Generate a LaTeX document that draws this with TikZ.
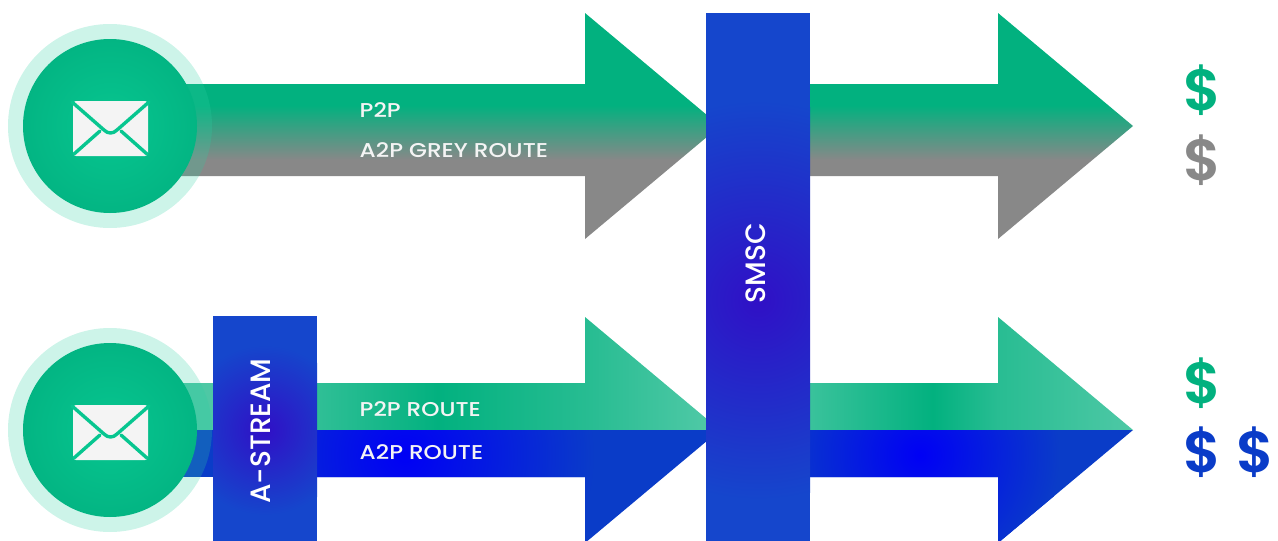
\documentclass[tikz,border=0pt]{standalone}
\usepackage{fontspec}
\setmainfont{Poppins}
\newfontfamily\routefont[FakeStretch=1.16]{Poppins Medium}
\newfontfamily\boxfont{Poppins Medium}
\newfontfamily\usdfont{Poppins SemiBold}
\usepackage{xcolor}
\usetikzlibrary{positioning}
\definecolor{routegreen}{HTML}{02B17F}
\definecolor{routegrey}{HTML}{888888}
\definecolor{routeblue}{HTML}{0000F5}
\definecolor{headblue}{HTML}{0A3CC8}
\definecolor{boxblue}{HTML}{1546CC}
\definecolor{boxviolet}{HTML}{3010C6}
\definecolor{mailgreen}{HTML}{07C690}
\definecolor{mailedge}{HTML}{03B583}
\definecolor{paper}{HTML}{F4F4F4}
\pgfdeclareverticalshading{greyroute}{100bp}{color(0bp)=(routegrey); color(42.5bp)=(routegrey); color(54.6bp)=(routegreen); color(100bp)=(routegreen)}
\pgfdeclarehorizontalshading{greenleft}{100bp}{color(0bp)=(routegreen!82!white); color(25bp)=(routegreen!82!white); color(40bp)=(routegreen); color(59bp)=(routegreen!85!white); color(75bp)=(routegreen!68!white); color(100bp)=(routegreen!68!white)}
\pgfdeclarehorizontalshading{greenright}{100bp}{color(0bp)=(routegreen!78!white); color(25bp)=(routegreen!78!white); color(44bp)=(routegreen); color(54bp)=(routegreen!85!white); color(75bp)=(routegreen!70!white); color(100bp)=(routegreen!70!white)}
\tikzset{
  routetext/.style={text=paper, font=\routefont\fontsize{20}{20}\selectfont, anchor=base west, inner sep=0pt},
  boxtext/.style={text=white, font=\boxfont\fontsize{28}{28}\selectfont, rotate=90, inner sep=0pt},
  money/.style={font=\usdfont\fontsize{58}{58}\selectfont, anchor=base west, inner sep=0pt},
  mailring/.style={circle, minimum size=204pt, inner sep=0pt, fill=mailgreen!85!white, fill opacity=.24},
  maildisc/.style={circle, minimum size=174pt, inner sep=0pt, inner color=mailgreen, outer color=mailedge},
  flap/.style={draw=mailgreen, line width=3.4pt, line cap=round, line join=round},
}
\begin{document}
\begin{tikzpicture}[x=1pt, y=-1pt]
\useasboundingbox (0,0) rectangle (1278,541);
% Upper arrows
\shade[shading=greyroute] (150,84) -- (585,84) -- (585,13) -- (720,126) -- (585,239) -- (585,176) -- (150,176) -- cycle;
\shade[shading=greyroute] (800,84) -- (998,84) -- (998,13) -- (1133,126) -- (998,239) -- (998,176) -- (800,176) -- cycle;
% Lower arrows, green half
\fill[routegreen!70!white] (150,383) rectangle (220,430);
\shade[shading=greenleft] (317,383) -- (585,383) -- (585,317) -- (720,430) -- (317,430) -- cycle;
\shade[shading=greenright] (810,383) -- (998,383) -- (998,317) -- (1133,430) -- (810,430) -- cycle;
% Lower arrows, blue half
\fill[headblue] (150,430) rectangle (220,477);
\begin{scope}
\clip (317,430) -- (720,430) -- (585,543) -- (585,477) -- (317,477) -- cycle;
\fill[headblue] (300,420) rectangle (730,550);
\shade[inner color=routeblue, outer color=headblue] (405,455) circle (190);
\end{scope}
\begin{scope}
\clip (810,430) -- (1133,430) -- (998,543) -- (998,477) -- (810,477) -- cycle;
\fill[headblue] (800,420) rectangle (1140,550);
\shade[inner color=routeblue, outer color=headblue] (920,455) circle (140);
\end{scope}
% Mail icons
\foreach \n/\cy in {top/126, low/430} {
  \node[mailring] (ring\n) at (110,\cy) {};
  \node[maildisc] (disc\n) at (110,\cy) {};
  \fill[paper, rounded corners=3pt] (73,\cy-25) rectangle (148,\cy+30);
  \draw[flap] (72,\cy-24) -- (104,\cy+4) .. controls (108,\cy+8) and (113,\cy+8) .. (117,\cy+4) -- (149,\cy-24);
  \draw[flap] (74,\cy+28) -- (100,\cy+5);
  \draw[flap] (147,\cy+28) -- (121,\cy+5);
}
% Boxes
\begin{scope}
\clip (213,316) rectangle (317,541);
\fill[boxblue] (213,316) rectangle (317,541);
\shade[inner color=boxviolet, outer color=boxblue] (265,430) circle (85);
\end{scope}
\begin{scope}
\clip (706,13) rectangle (810,541);
\fill[boxblue] (706,13) rectangle (810,541);
\shade[inner color=boxviolet, outer color=boxblue] (758,300) circle (200);
\end{scope}
\node[boxtext] (astream) at (261,431) {A-STREAM};
\node[boxtext] (smsc) at (756,263) {SMSC};
% Labels
\node[routetext] (ptop) at (359.5,117) {P2P};
\node[routetext] (agrey) at (359.5,157) {A2P GREY ROUTE};
\node[routetext] (plow) at (359.5,416) {P2P ROUTE};
\node[routetext] (alow) at (359.5,459) {A2P ROUTE};
\node[money, text=routegreen] (usdgreen) at (1183.5,110) {\$};
\node[money, text=routegrey] (usdgrey) at (1183.5,180) {\$};
\node[money, text=routegreen] (usdlow) at (1183.5,403) {\$};
\node[money, text=headblue] (usdone) at (1183.5,472) {\$};
\node[money, text=headblue] (usdtwo) at (1236.5,472) {\$};
\end{tikzpicture}
\end{document}
